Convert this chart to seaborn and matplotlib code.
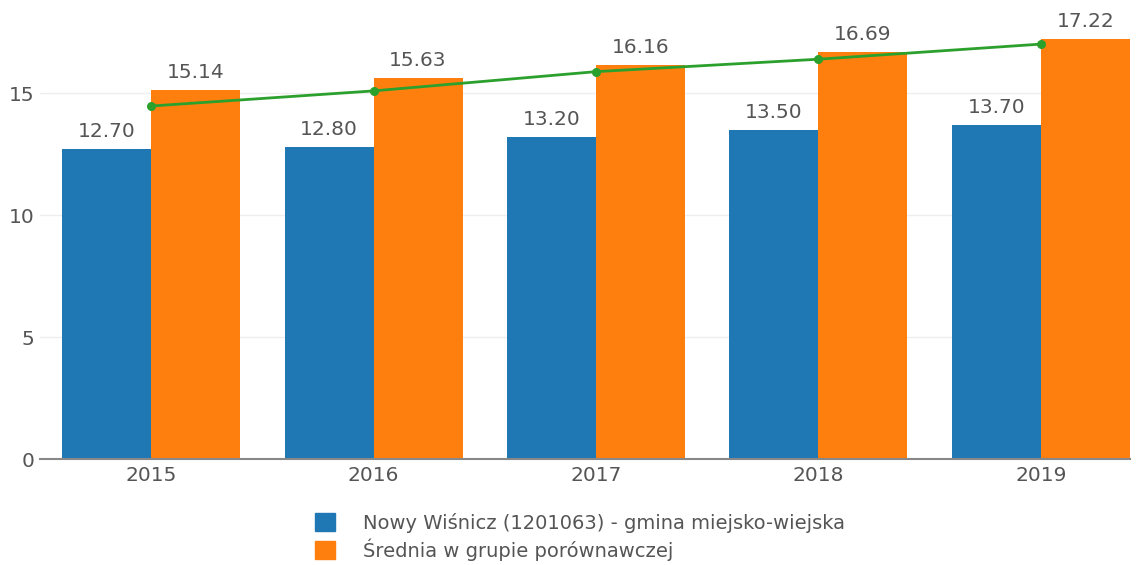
import numpy as np
import pandas as pd
import matplotlib
matplotlib.use("Agg")
import matplotlib.pyplot as plt
import seaborn as sns
from matplotlib.patches import Patch

# DATA
years = ["2015", "2016", "2017", "2018", "2019"]
gmina = [12.70, 12.80, 13.20, 13.50, 13.70]
srednia = [15.14, 15.63, 16.16, 16.69, 17.22]
trend = [14.48, 15.10, 15.89, 16.40, 17.02]
series_names = ["Nowy Wiśnicz (1201063) - gmina miejsko-wiejska",
                "Średnia w grupie porównawczej"]
colors = ["#1f77b4", "#ff7f0e"]
line_color = "#2ca02c"
text_color = "#555555"

df = pd.DataFrame({
    "rok": years * 2,
    "wartosc": gmina + srednia,
    "seria": [series_names[0]] * len(years) + [series_names[1]] * len(years),
})

sns.set_style("white")
plt.rcParams["font.family"] = ["DejaVu Sans"]

fig = plt.figure(figsize=(11.39, 5.65), dpi=100)
ax = fig.add_axes([0.035, 0.1876, 0.957, 0.768])

sns.barplot(data=df, x="rok", y="wartosc", hue="seria", palette=colors,
            width=0.8, gap=0, saturation=1, linewidth=0, ax=ax, legend=False)

for cont in ax.containers:
    ax.bar_label(cont, fmt="%.2f", padding=6, color=text_color, fontsize=14.5)

sns.pointplot(x=years, y=trend, color=line_color, ax=ax,
              markersize=5, linewidth=2)

ax.set_xlim(-0.5, 4.4)
ax.set_ylim(0, 17.8)
ax.set_yticks([0, 5, 10, 15])
ax.yaxis.grid(True, color="#eeeeee", linewidth=1)
ax.set_axisbelow(True)
for s in ["top", "right", "left"]:
    ax.spines[s].set_visible(False)
ax.spines["bottom"].set_color("#888888")
ax.spines["bottom"].set_linewidth(1.5)
ax.tick_params(axis="both", length=0, labelsize=14.5, labelcolor=text_color)
ax.tick_params(axis="y", pad=4)
ax.tick_params(axis="x", pad=5)
ax.set_xlabel("")
ax.set_ylabel("")

handles = [Patch(color=c) for c in colors]
fig.legend(handles, series_names, loc="upper left", bbox_to_anchor=(0.268, 0.11),
           frameon=False, fontsize=14, labelcolor=text_color,
           handlelength=1.05, handleheight=1.05, handletextpad=1.4,
           labelspacing=0.3, borderpad=0)

fig.savefig("out.png", dpi=100)
